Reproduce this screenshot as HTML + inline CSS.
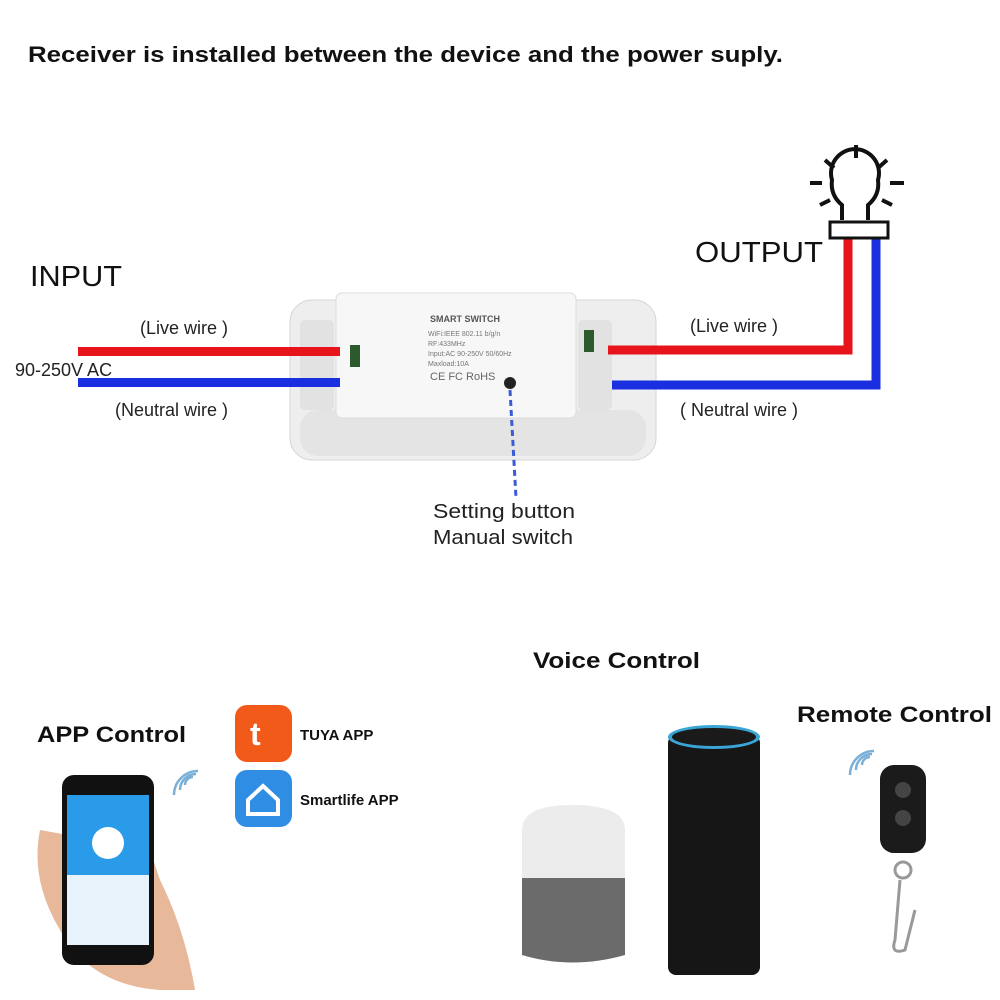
<!DOCTYPE html>
<html><head><meta charset="utf-8"><style>
html,body{margin:0;padding:0;background:#fff;width:1000px;height:1000px;overflow:hidden}
svg{display:block}
text{font-family:"Liberation Sans",sans-serif}
</style></head><body>
<svg width="1000" height="1000" viewBox="0 0 1000 1000">
<text x="28" y="62" font-size="22" font-weight="bold" fill="#111" textLength="755" lengthAdjust="spacingAndGlyphs">Receiver is installed between the device and the power suply.</text>
<text x="30" y="286" font-size="29" fill="#111" textLength="92" lengthAdjust="spacingAndGlyphs">INPUT</text>
<text x="695" y="262" font-size="29" fill="#111" textLength="128" lengthAdjust="spacingAndGlyphs">OUTPUT</text>
<!-- device -->
<rect x="290" y="300" width="366" height="160" rx="22" fill="#eeeeee" stroke="#d6d6d6"/>
<rect x="300" y="410" width="346" height="46" rx="18" fill="#e4e4e4"/>
<rect x="336" y="293" width="240" height="125" rx="6" fill="#f7f7f7" stroke="#ddd"/>
<rect x="300" y="320" width="34" height="90" rx="5" fill="#e2e2e2"/>
<rect x="578" y="320" width="34" height="90" rx="5" fill="#e2e2e2"/>
<rect x="350" y="345" width="10" height="22" fill="#2c5a2c"/>
<rect x="584" y="330" width="10" height="22" fill="#2c5a2c"/>
<text x="430" y="322" font-size="9" font-weight="bold" fill="#555">SMART SWITCH</text>
<text x="428" y="336" font-size="7" fill="#777">WiFi:IEEE 802.11 b/g/n</text>
<text x="428" y="346" font-size="7" fill="#777">RF:433MHz</text>
<text x="428" y="356" font-size="7" fill="#777">Input:AC 90-250V 50/60Hz</text>
<text x="428" y="366" font-size="7" fill="#777">Maxload:10A</text>
<text x="430" y="380" font-size="11" fill="#666">CE FC RoHS</text>
<circle cx="510" cy="383" r="6" fill="#222"/>
<line x1="510" y1="390" x2="516" y2="498" stroke="#3b5bd6" stroke-width="3" stroke-dasharray="6,4"/>
<!-- left wires -->
<rect x="78" y="347" width="262" height="9" fill="#e8141c"/>
<rect x="78" y="378" width="262" height="9" fill="#1a2fe0"/>
<text x="140" y="334" font-size="18" fill="#222">(Live wire )</text>
<text x="15" y="376" font-size="18" fill="#222">90-250V  AC</text>
<text x="115" y="416" font-size="18" fill="#222">(Neutral wire )</text>
<!-- right wires -->
<path d="M608 350 H848 V238" stroke="#e8141c" stroke-width="9" fill="none"/>
<path d="M612 385 H876 V238" stroke="#1a2fe0" stroke-width="9" fill="none"/>
<text x="690" y="332" font-size="18" fill="#222">(Live wire )</text>
<text x="680" y="416" font-size="18" fill="#222">( Neutral wire )</text>
<text x="433" y="518" font-size="20" fill="#222" textLength="142" lengthAdjust="spacingAndGlyphs">Setting button</text>
<text x="433" y="544" font-size="20" fill="#222" textLength="140" lengthAdjust="spacingAndGlyphs">Manual switch</text>
<!-- lamp -->
<g stroke="#111" stroke-width="4" fill="none">
<path d="M842 220 V205 Q830 195 832 180 A24 24 0 1 1 878 180 Q880 195 868 205 V220"/>
<line x1="856" y1="145" x2="856" y2="158"/><line x1="825" y1="160" x2="834" y2="168"/><line x1="887" y1="160" x2="878" y2="168"/>
<line x1="810" y1="183" x2="822" y2="183"/><line x1="890" y1="183" x2="904" y2="183"/>
<line x1="820" y1="205" x2="830" y2="200"/><line x1="892" y1="205" x2="882" y2="200"/>
</g>
<rect x="830" y="222" width="58" height="16" fill="#fff" stroke="#111" stroke-width="3"/>
<!-- bottom -->
<text x="533" y="668" font-size="22" font-weight="bold" fill="#111" textLength="167" lengthAdjust="spacingAndGlyphs">Voice Control</text>
<text x="37" y="742" font-size="22" font-weight="bold" fill="#111" textLength="149" lengthAdjust="spacingAndGlyphs">APP Control</text>
<text x="797" y="722" font-size="22" font-weight="bold" fill="#111" textLength="195" lengthAdjust="spacingAndGlyphs">Remote Control</text>
<rect x="235" y="705" width="57" height="57" rx="12" fill="#f25a1a"/>
<text x="250" y="745" font-size="32" font-weight="bold" fill="#fff">t</text>
<text x="300" y="740" font-size="15" font-weight="bold" fill="#111">TUYA APP</text>
<rect x="235" y="770" width="57" height="57" rx="12" fill="#2f8de4"/>
<path d="M248 800 L263 786 L278 800 V814 H248 Z" fill="none" stroke="#fff" stroke-width="4"/>
<text x="300" y="805" font-size="15" font-weight="bold" fill="#111">Smartlife APP</text>
<g stroke="#7ab0d8" stroke-width="2.5" fill="none">
<path d="M185 785 a8 8 0 0 1 8 -8"/><path d="M180 790 a16 16 0 0 1 16 -16"/><path d="M174 795 a24 24 0 0 1 24 -24"/>
<path d="M862 765 a8 8 0 0 1 8 -8"/><path d="M856 770 a16 16 0 0 1 16 -16"/><path d="M850 775 a24 24 0 0 1 24 -24"/>
</g>
<!-- phone + hand -->
<path d="M40 830 Q30 880 60 930 Q90 985 160 990 L195 990 Q185 930 160 880 L150 850 Z" fill="#e8b89a"/>
<rect x="62" y="775" width="92" height="190" rx="12" fill="#111"/>
<rect x="67" y="795" width="82" height="150" fill="#e8f2fb"/>
<rect x="67" y="795" width="82" height="80" fill="#2a9be8"/>
<circle cx="108" cy="843" r="16" fill="#fff"/>
<!-- google home -->
<path d="M522 830 Q522 805 572 805 Q625 805 625 830 V880 H522 Z" fill="#ececec"/>
<path d="M522 878 H625 V955 Q572 970 522 955 Z" fill="#6b6b6b"/>
<!-- echo -->
<rect x="668" y="735" width="92" height="240" rx="8" fill="#161616"/>
<ellipse cx="714" cy="737" rx="46" ry="12" fill="#3aa6d8"/>
<ellipse cx="714" cy="737" rx="42" ry="9" fill="#1a1a1a"/>
<!-- remote -->
<rect x="880" y="765" width="46" height="88" rx="14" fill="#1b1b1b"/>
<circle cx="903" cy="790" r="8" fill="#444"/><circle cx="903" cy="818" r="8" fill="#444"/>
<circle cx="903" cy="870" r="8" fill="none" stroke="#999" stroke-width="3"/>
<path d="M900 880 L895 940 Q890 955 905 950 L915 910" fill="none" stroke="#999" stroke-width="3"/>
</svg>
</body></html>
